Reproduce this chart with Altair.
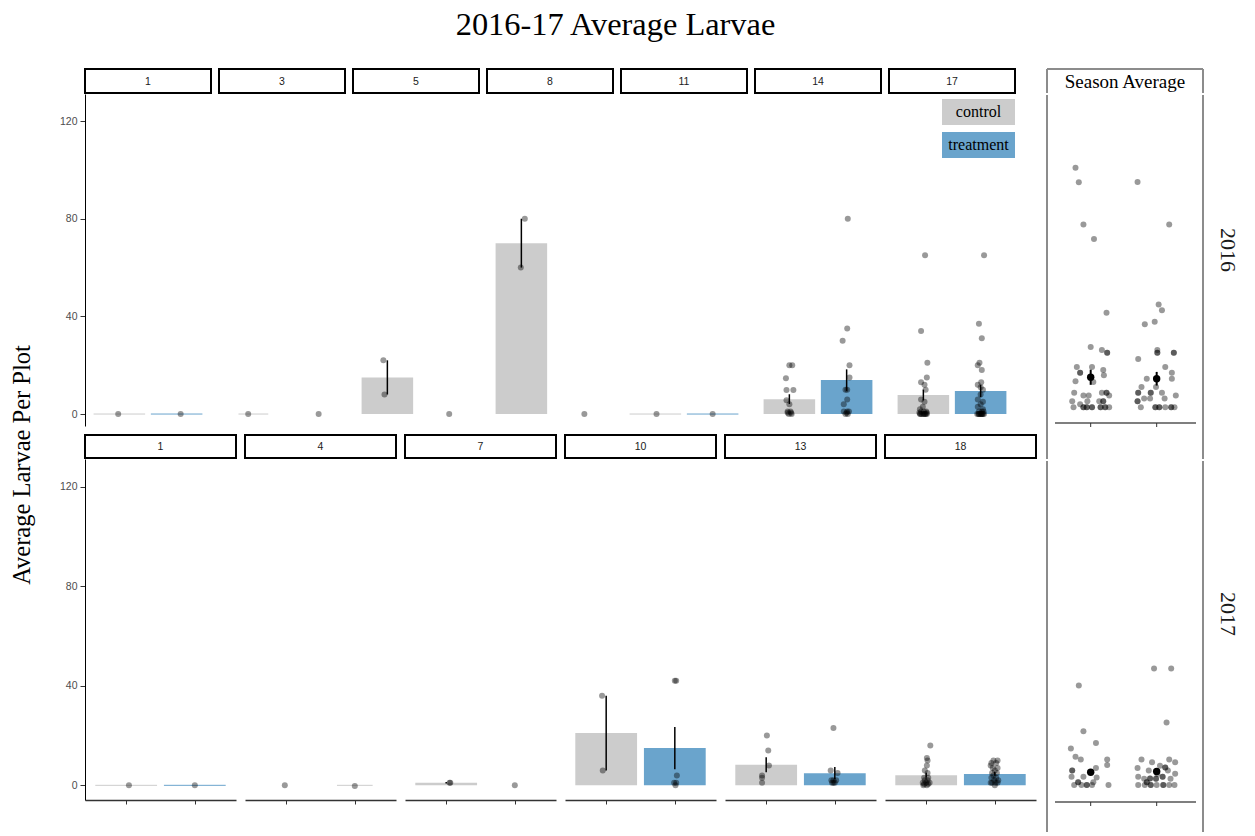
import altair as alt
import pandas as pd

SERIF = "Liberation Serif"
SANS = "Liberation Sans"

chart_title = "2016-17 Average Larvae"
y_axis_title = "Average Larvae Per Plot"
season_title = "Season Average"
weeks_2016 = ["1", "3", "5", "8", "11", "14", "17"]
weeks_2017 = ["1", "4", "7", "10", "13", "18"]
treatments = ["control", "treatment"]
fill_colors = ["#cccccc", "#6aa4cc"]
y_ticks = [0, 40, 80, 120]

# ---- bar means and standard errors ----
bar_year = ["2016"] * 6 + ["2017"] * 7
bar_week = ["5", "8", "14", "14", "17", "17", "7", "10", "10", "13", "13", "18", "18"]
bar_treat = ["control", "control", "control", "treatment", "control", "treatment",
             "control", "control", "treatment", "control", "treatment", "control", "treatment"]
bar_mean = [15, 70, 6.1, 13.9, 7.8, 9.4, 1.0, 21, 15, 8.3, 4.9, 4.1, 4.6]
bar_se = [7, 10, 2.0, 4.4, 2.2, 2.5, 0.3, 15, 8.5, 3.0, 2.5, 1.0, 0.8]

# ---- zero-height bars ----
zero_year = ["2016"] * 5 + ["2017"] * 3
zero_week = ["1", "1", "3", "11", "11", "1", "1", "4"]
zero_treat = ["control", "treatment", "control", "control", "treatment", "control", "treatment", "treatment"]
zero_fill = ["control", "treatment", "control", "control", "treatment", "control", "treatment", "control"]
zero_full = [True, True, False, True, True, True, True, False]

# ---- individual plot values per panel (value list, horizontal jitter list) ----
plot_values = {
    "2016|1|control": [0], "2016|1|treatment": [0],
    "2016|3|control": [0], "2016|3|treatment": [0],
    "2016|5|control": [22, 8], "2016|5|treatment": [0],
    "2016|8|control": [80, 60], "2016|8|treatment": [0],
    "2016|11|control": [0], "2016|11|treatment": [0],
    "2016|14|control": [20, 20, 14.7, 9.8, 9.8, 5.6, 4, 1, 1, 0.5, 0.5, 0, 0],
    "2016|14|treatment": [80, 35, 30, 20, 15, 10, 10, 6, 4, 1, 1, 1, 0.5, 0, 0],
    "2016|17|control": [65, 34, 21, 15, 13, 12, 10, 6, 5, 3, 2, 1, 1, 1, 0.5, 0.5, 0, 0, 0, 0, 0, 0, 0, 0],
    "2016|17|treatment": [65, 37, 31, 21, 20, 18, 13, 12, 11, 10, 8, 6, 5, 4, 3, 2, 1, 1, 1,
                          0, 0, 0, 0, 0, 0, 0, 0, 0, 0],
    "2017|1|control": [0], "2017|1|treatment": [0],
    "2017|4|control": [0], "2017|4|treatment": [-0.3],
    "2017|7|control": [1, 1], "2017|7|treatment": [0],
    "2017|10|control": [36, 6], "2017|10|treatment": [42, 42, 4, 1, 1, 0],
    "2017|13|control": [20, 14, 8, 4, 3, 1],
    "2017|13|treatment": [23, 6, 5, 2, 2, 2, 1, 1, 1],
    "2017|18|control": [16, 11, 10, 8, 6, 5, 3, 3, 2, 2, 1, 1, 1, 0.5, 0.5, 0, 0],
    "2017|18|treatment": [10, 10, 9, 9, 8, 7, 7, 6, 5, 5, 4, 3, 3, 2, 2, 1, 1, 1, 1, 0],
}
plot_jitter = {
    "2016|1|control": [-0.02], "2016|1|treatment": [0.07],
    "2016|3|control": [-0.09], "2016|3|treatment": [0.14],
    "2016|5|control": [-0.07, -0.05], "2016|5|treatment": [0.08],
    "2016|8|control": [0.06, -0.01], "2016|8|treatment": [0.10],
    "2016|11|control": [0.02], "2016|11|treatment": [0.0],
    "2016|14|control": [0.05, 0, -0.06, -0.05, 0.07, -0.05, 0, -0.03, 0.02, -0.03, 0.03, -0.01, 0.04],
    "2016|14|treatment": [0.02, 0.01, -0.07, 0.05, 0.05, 0.01, -0.02, 0.01, -0.05, 0.01, -0.05, 0.04, 0, -0.02, 0.02],
    "2016|17|control": [0.03, -0.04, 0.07, 0.06, -0.04, 0.02, 0.04, -0.04, 0.02, -0.01, -0.06, 0.05, -0.04, 0.01,
                        -0.07, 0.06, -0.06, -0.03, 0, 0.03, 0.06, -0.05, 0.04, 0.01],
    "2016|17|treatment": [0.06, -0.03, 0.02, -0.02, -0.05, 0.02, 0.01, -0.05, 0, 0.04, 0, -0.05, 0.04, 0, -0.05,
                          0.04, -0.03, 0.02, 0.05, -0.06, -0.04, -0.02, 0, 0.02, 0.04, 0.06, -0.03, 0.01, 0.03],
    "2017|1|control": [0.04], "2017|1|treatment": [0.0],
    "2017|4|control": [-0.02], "2017|4|treatment": [0.0],
    "2017|7|control": [0.06, 0.05], "2017|7|treatment": [0.0],
    "2017|10|control": [-0.06, -0.05], "2017|10|treatment": [0.0, 0.02, 0.03, -0.01, 0.02, 0.01],
    "2017|13|control": [0.01, 0.03, 0.04, -0.06, -0.06, -0.06],
    "2017|13|treatment": [-0.02, -0.06, 0.04, -0.02, -0.05, 0.02, -0.02, 0.0, -0.04],
    "2017|18|control": [0.06, 0.01, 0.02, 0.01, -0.02, 0.02, -0.03, 0.03, -0.02, 0.02, -0.05, 0, 0.05, -0.03,
                        0.03, -0.04, 0.01],
    "2017|18|treatment": [-0.02, 0.04, -0.05, 0.02, -0.06, -0.03, 0.04, 0.0, -0.04, 0.03, -0.02, 0.02, -0.05,
                          0.05, -0.01, -0.04, 0.01, 0.04, -0.06, 0.0],
}

# ---- season averages per plot ----
season_values = {
    "2016|control": [98.2, 92.2, 74.9, 69.0, 38.7, 24.7, 23.5, 22.4, 22.4, 16.5, 14.2, 14.2, 16.5, 15.3, 13.1,
                     10.7, 10.4, 6.0, 4.8, 4.8, 6.0, 6.0, 6.0, 4.8, 2.5, 1.2, 2.5, 2.5, 2.5, 2.5,
                     0, 0, 0, 0, 0, 0, 0, 0, 0, 0, 0, 0],
    "2016|treatment": [92.3, 74.9, 42.1, 39.8, 35.1, 34.0, 23.5, 22.4, 22.4, 22.3, 22.3, 19.8, 16.5, 14.2,
                       11.7, 11.7, 8.3, 6.0, 6.0, 6.0, 8.3, 6.0, 6.0, 3.6, 3.6, 3.6, 4.8, 2.5, 2.5,
                       0, 0, 0, 0, 0, 0, 0, 0, 0],
    "2017|control": [41.0, 22.1, 17.3, 15.0, 11.6, 10.5, 10.5, 8.2, 5.9, 5.9, 7.0, 3.4, 3.4, 1.1, 1.1, 1.1,
                     3.1, 0, 0, 0, 0, 0, 0],
    "2017|treatment": [48.0, 48.0, 25.7, 10.5, 9.3, 10.5, 9.3, 7.0, 5.9, 7.9, 5.9, 4.6, 3.4, 2.5, 2.7, 2.7,
                       2.5, 2.5, 3.4, 3.4, 2.5, 0, 0, 0, 0, 0, 0, 0, 0, 0, 1.1, 1.1, 4.5, 7.2, 7.2],
}
season_jitter = {
    "2016|control": [-0.23, -0.18, -0.11, 0.05, 0.24, 0.0, 0.17, 0.25, 0.25, -0.21, -0.16, -0.16, 0.02, 0.19,
                     0.2, -0.23, 0.04, -0.25, -0.11, -0.03, 0.17, 0.24, 0.24, 0.28, -0.28, -0.16, -0.05, 0.13,
                     0.19, 0.19, -0.26, -0.11, -0.11, -0.06, -0.06, 0.02, 0.02, 0.15, 0.15, 0.22, 0.22, 0.28],
    "2016|treatment": [-0.29, 0.19, 0.03, 0.08, -0.03, -0.18, 0.01, 0.01, 0.01, 0.26, 0.26, -0.28, 0.13, 0.23,
                       0.23, -0.15, -0.23, -0.09, -0.09, 0.08, -0.01, -0.28, -0.28, -0.19, -0.1, 0.12, 0.29,
                       -0.29, -0.29, -0.24, -0.02, -0.02, 0.04, 0.04, 0.13, 0.22, 0.22, 0.27],
    "2017|control": [-0.18, -0.11, 0.08, -0.30, -0.23, -0.15, 0.25, 0.25, -0.28, -0.28, 0.08, -0.29, -0.11,
                     -0.19, -0.19, 0.04, 0.09, -0.25, -0.14, -0.06, -0.06, 0.02, 0.27],
    "2017|treatment": [-0.04, 0.22, 0.15, -0.23, -0.07, 0.19, 0.28, -0.29, -0.12, 0.05, 0.17, 0.28, -0.28,
                       -0.19, -0.1, -0.1, -0.01, -0.01, 0.09, 0.09, 0.21, -0.28, -0.18, -0.09, -0.09, 0.0,
                       0.1, 0.1, 0.19, 0.27, -0.15, -0.15, 0.01, 0.13, 0.13],
}
season_mean_year = ["2016", "2016", "2017", "2017"]
season_mean_treat = ["control", "treatment", "control", "treatment"]
season_mean = [12.3, 11.7, 5.2, 5.5]
season_se = [3.1, 2.8, 1.0, 0.9]

# ---------------- tables ----------------
pos_of = {t: i for i, t in enumerate(treatments)}

bars_df = pd.DataFrame({"year": bar_year, "week": bar_week, "treatment": bar_treat,
                        "mean": bar_mean, "se": bar_se})
bars_df["pos"] = bars_df["treatment"].map(pos_of)
bars_df["xl"] = bars_df["pos"] - 0.45
bars_df["xr"] = bars_df["pos"] + 0.45
bars_df["lo"] = bars_df["mean"] - bars_df["se"]
bars_df["hi"] = bars_df["mean"] + bars_df["se"]
bars_df["base"] = 0.0

zero_df = pd.DataFrame({"year": zero_year, "week": zero_week, "treatment": zero_treat,
                        "fill": zero_fill, "full": zero_full})
zero_df["pos"] = zero_df["treatment"].map(pos_of)
half = zero_df["full"].map({True: 0.45, False: 0.26})
zero_df["xl"] = zero_df["pos"] - half
zero_df["xr"] = zero_df["pos"] + half
zero_df["base"] = 0.0

rows = []
for key, vals in plot_values.items():
    y, w, t = key.split("|")
    for v, j in zip(vals, plot_jitter[key]):
        rows.append({"year": y, "week": w, "treatment": t, "value": v, "xj": pos_of[t] + j})
pts_df = pd.DataFrame(rows)

srows = []
for key, vals in season_values.items():
    y, t = key.split("|")
    for v, j in zip(vals, season_jitter[key]):
        srows.append({"year": y, "treatment": t, "value": v, "xj": pos_of[t] + j})
season_df = pd.DataFrame(srows)
smean_df = pd.DataFrame({"year": season_mean_year, "treatment": season_mean_treat,
                         "mean": season_mean, "se": season_se})
smean_df["pos"] = smean_df["treatment"].map(pos_of)
smean_df["lo"] = smean_df["mean"] - smean_df["se"]
smean_df["hi"] = smean_df["mean"] + smean_df["se"]

color_scale = alt.Scale(domain=treatments, range=fill_colors)
one_row = pd.DataFrame({"k": [0]})
PT_SIZE = 36

AXIS_LABEL = dict(labelFont=SANS, labelFontSize=10.5, labelColor="#4d4d4d", labelPadding=3,
                  tickColor="#333333", tickSize=5, tickWidth=1, domainColor="#000000", domainWidth=1)


def header(label, width, height, with_axis):
    base = alt.Chart(pd.DataFrame({"label": [label]}))
    txt = base.mark_text(font=SANS, fontSize=10.5, color="#1a1a1a", baseline="middle").encode(
        text="label:N", x=alt.value(width / 2), y=alt.value(height / 2 + 0.5))
    layers = [txt]
    if with_axis:
        dummy = alt.Chart(pd.DataFrame({"d": [120]})).mark_point(opacity=0).encode(
            y=alt.Y("d:Q", scale=alt.Scale(domain=[100, 140]),
                    axis=alt.Axis(values=[120], title=None, grid=False, labelOpacity=0,
                                  tickOpacity=0, domainOpacity=0, **AXIS_LABEL)))
        layers.append(dummy)
    return alt.layer(*layers).properties(
        width=width, height=height, view=alt.ViewBackground(stroke="black", strokeWidth=2))


def main_panel(year, week, width, height, ydom, show_y, show_x, legend=False):
    xs = alt.Scale(domain=[-0.6, 1.6], nice=False, zero=False)
    ys = alt.Scale(domain=ydom, nice=False, zero=False)
    xax = alt.Axis(values=[0, 1], labels=False, title=None, grid=False, domainColor="#333333",
                   domainWidth=1.3, tickColor="#333333", tickSize=4, tickWidth=1) if show_x else None
    yax = alt.Axis(values=y_ticks, title=None, grid=False, **AXIS_LABEL) if show_y else None

    def X(f):
        return alt.X(f, type="quantitative", scale=xs, axis=xax)

    def Y(f):
        return alt.Y(f, type="quantitative", scale=ys, axis=yax)

    b = bars_df[(bars_df.year == year) & (bars_df.week == week)]
    z = zero_df[(zero_df.year == year) & (zero_df.week == week)]
    p = pts_df[(pts_df.year == year) & (pts_df.week == week)]
    layers = []
    if len(b):
        layers.append(alt.Chart(b).mark_bar().encode(
            x=X("xl"), x2="xr", y=Y("base"), y2="mean",
            color=alt.Color("treatment:N", scale=color_scale, legend=None)))
    if len(z):
        layers.append(alt.Chart(z).mark_rule(strokeWidth=1).encode(
            x=X("xl"), x2="xr", y=Y("base"),
            color=alt.Color("fill:N", scale=color_scale, legend=None)))
    if len(p):
        layers.append(alt.Chart(p).mark_circle(size=PT_SIZE, color="black", opacity=0.4).encode(
            x=X("xj"), y=Y("value")))
    if len(b):
        layers.append(alt.Chart(b).mark_rule(color="black", strokeWidth=1.5).encode(
            x=X("pos"), y=Y("lo"), y2="hi"))
    if legend:
        for i, (lab, col) in enumerate(zip(treatments, fill_colors)):
            top = 5 + 33 * i
            layers.append(alt.Chart(pd.DataFrame({"label": [lab]})).mark_rect(color=col).encode(
                x=alt.value(53), x2=alt.value(126), y=alt.value(top), y2=alt.value(top + 26)))
            layers.append(alt.Chart(pd.DataFrame({"label": [lab]})).mark_text(
                font=SERIF, fontSize=16, color="black", baseline="middle").encode(
                text="label:N", x=alt.value(89.5), y=alt.value(top + 13)))
    return alt.layer(*layers).properties(width=width, height=height)


BOX = "#8c8c8c"
SW = 156


def season_header():
    t = alt.Chart(pd.DataFrame({"label": [season_title]})).mark_text(
        font=SERIF, fontSize=19, color="black", baseline="middle").encode(
        text="label:N", x=alt.value(SW / 2), y=alt.value(13))
    top = alt.Chart(one_row).mark_rule(color=BOX, strokeWidth=2).encode(
        x=alt.value(0), x2=alt.value(SW), y=alt.value(0))
    lft = alt.Chart(one_row).mark_rule(color=BOX, strokeWidth=2).encode(
        x=alt.value(0), y=alt.value(0), y2=alt.value(24))
    rgt = alt.Chart(one_row).mark_rule(color=BOX, strokeWidth=2).encode(
        x=alt.value(SW), y=alt.value(0), y2=alt.value(24))
    return alt.layer(t, top, lft, rgt).properties(width=SW, height=24)


def season_panel(year, height, ydom, axis_y, strip_y):
    xs = alt.Scale(domain=[-0.662, 1.702], nice=False, zero=False)
    ys = alt.Scale(domain=ydom, nice=False, zero=False)

    def X(f):
        return alt.X(f, type="quantitative", scale=xs, axis=None)

    def Y(f):
        return alt.Y(f, type="quantitative", scale=ys, axis=None)

    s = season_df[season_df.year == year]
    m = smean_df[smean_df.year == year]
    lft = alt.Chart(one_row).mark_rule(color=BOX, strokeWidth=2).encode(
        x=alt.value(0), y=alt.value(0), y2=alt.value(height))
    rgt = alt.Chart(one_row).mark_rule(color=BOX, strokeWidth=2).encode(
        x=alt.value(SW), y=alt.value(0), y2=alt.value(height))
    pts = alt.Chart(s).mark_circle(size=PT_SIZE, color="black", opacity=0.4).encode(x=X("xj"), y=Y("value"))
    err = alt.Chart(m).mark_rule(color="black", strokeWidth=2).encode(x=X("pos"), y=Y("lo"), y2="hi")
    mpt = alt.Chart(m).mark_circle(size=55, color="black", opacity=1).encode(x=X("pos"), y=Y("mean"))
    axl = alt.Chart(one_row).mark_rule(color="black", strokeWidth=1.1).encode(
        x=alt.value(8), x2=alt.value(149), y=alt.value(axis_y))
    tks = alt.Chart(pd.DataFrame({"pos": [0, 1]})).mark_rule(color="#333333", strokeWidth=1).encode(
        x=X("pos"), y=alt.value(axis_y), y2=alt.value(axis_y + 4))
    strip = alt.Chart(pd.DataFrame({"label": [year]})).mark_text(
        font=SERIF, fontSize=22, color="#1a1a1a", angle=90, baseline="middle").encode(
        text="label:N", x=alt.value(SW + 25), y=alt.value(strip_y))
    return alt.layer(lft, rgt, pts, err, mpt, axl, tks, strip).properties(width=SW, height=height)


top_row = alt.hconcat(*[
    alt.vconcat(header(w, 126, 24, i == 0),
                main_panel("2016", w, 126, 332, [-4.9, 131.1], i == 0, False, legend=(w == "17")),
                spacing=0)
    for i, w in enumerate(weeks_2016)], spacing=6)

bottom_row = alt.hconcat(*[
    alt.vconcat(header(w, 151, 23, i == 0),
                main_panel("2017", w, 151, 341, [-5.9, 131.2], i == 0, True),
                spacing=0)
    for i, w in enumerate(weeks_2017)], spacing=7)

left_block = alt.vconcat(top_row, bottom_row, spacing=8)

season_block = alt.vconcat(
    season_header(),
    season_panel("2016", 364, [-21.2, 128.0], 328, 155),
    season_panel("2017", 371, [-19.4, 133.5], 341, 153),
    spacing=0)

ytitle = alt.Chart(pd.DataFrame({"t": [y_axis_title]})).mark_text(
    angle=270, font=SERIF, fontSize=24.5, color="black", baseline="middle").encode(
    text="t:N", x=alt.value(12), y=alt.value(396)).properties(width=24, height=730)

chart = alt.hconcat(
    ytitle,
    alt.hconcat(left_block, season_block, spacing=9),
    spacing=23,
).properties(
    title=alt.TitleParams(chart_title, font=SERIF, fontSize=32.4, fontWeight="normal",
                          color="black", anchor="middle", dx=-9, offset=27),
    padding={"left": 10, "top": 8, "right": 5, "bottom": 0},
    background="white",
).configure_view(strokeWidth=0, stroke="transparent")

chart.save("out.html", embed_options={"renderer": "svg", "actions": False})
